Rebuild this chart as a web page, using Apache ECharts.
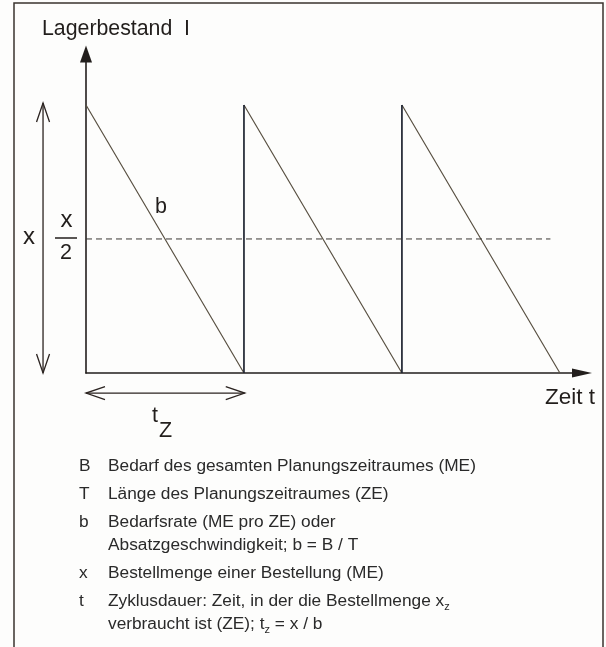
<!DOCTYPE html>
<html>
<head>
<meta charset="utf-8" />
<script src="https://cdn.jsdelivr.net/npm/echarts@6/dist/echarts.min.js"></script>
<style>
	html, body { margin: 0; padding: 0; background: #fff; }
	#main { width: 606px; height: 647px; }
</style>
</head>
<body>
<div id="main"></div>
<script type="text/javascript">
	// Zeit in Zyklen (t_z = 1), Lagerbestand in Einheiten von x (x = 1)
	var drawT = [0, 1, '-', 1, 2, '-', 2, 3];      // Verbrauch (Diagonalen)
	var drawI = [1, 0, '-', 1, 0, '-', 1, 0];
	var refillT = [1, 1, '-', 2, 2];              // Zugang der Bestellung
	var refillI = [0, 1, '-', 0, 1];
	var halfT = [0, 2.94];                        // Linie x/2
	var halfI = [0.5, 0.5];
	// Massepfeile [t1, I1, t2, I2]: Bestellmenge x und Zyklusdauer t_z
	var dimArrows = [[-0.272, 1.007, -0.272, 0], [0, -0.075, 1.005, -0.075]];

	var legendKeys = ['B', 'T', 'b', 'x', 't'];
	var legendTexts = [
		'Bedarf des gesamten Planungszeitraumes (ME)',
		'Länge des Planungszeitraumes (ZE)',
		'Bedarfsrate (ME pro ZE) oder\nAbsatzgeschwindigkeit; b = B / T',
		'Bestellmenge einer Bestellung (ME)',
		'Zyklusdauer: Zeit, in der die Bestellmenge x{s|z}\nverbraucht ist (ZE); t{s|z} = x / b'
	];

	function zip(a, b) {
		return a.map(function (v, i) { return v === '-' ? ['-', '-'] : [v, b[i]]; });
	}

	var FONT = '"Liberation Sans", Arial, Helvetica, sans-serif';
	var INK = '#221e1c';

	function txt(text, x, y, size, opt) {
		opt = opt || {};
		var style = {
			text: text, fill: opt.fill || INK, fontFamily: FONT, fontSize: size,
			align: opt.align || 'left', verticalAlign: opt.va || 'middle'
		};
		if (opt.lh) style.lineHeight = opt.lh;
		if (opt.rich) style.rich = opt.rich;
		return { type: 'text', x: x, y: y, silent: true, style: style };
	}

	// Rahmen und Beschriftung im Diagramm
	var graphics = [
		{ type: 'rect', silent: true, shape: { x: 14, y: 3, width: 589, height: 700 },
			style: { fill: 'transparent', stroke: '#3a332e', lineWidth: 1.5 } },
		txt('Lagerbestand  I', 42, 28.7, 21.3),
		txt('Zeit t', 545, 397.5, 22.5),
		txt('x', 23, 237, 24),
		txt('x', 66.5, 220, 24, { align: 'center' }),
		{ type: 'line', silent: true, shape: { x1: 55, y1: 238, x2: 77, y2: 238 },
			style: { stroke: INK, lineWidth: 1.5 } },
		txt('2', 66, 252.7, 21.5, { align: 'center' }),
		txt('b', 155, 206.7, 21.5),
		txt('t', 152, 415.7, 21.5),
		txt('Z', 159, 430.7, 21.5)
	];

	// Legende unter dem Diagramm
	var LFS = 17.3, LLH = 23, rowY = 472, extra = 0;
	var LINK = '#2a2a2a';
	for (var k = 0; k < legendKeys.length; k++) {
		var base = rowY + 28 * k + LLH * extra;
		var rowTop = base - 0.35 * LFS - LLH / 2;
		graphics.push(txt(legendKeys[k], 79, rowTop, LFS, { va: 'top', lh: LLH, fill: LINK }));
		var o = { va: 'top', lh: LLH, fill: LINK };
		if (legendTexts[k].indexOf('{s|') >= 0) {
			o.rich = { s: { fontSize: 11, lineHeight: 14, verticalAlign: 'bottom', fill: LINK, fontFamily: FONT } };
		}
		graphics.push(txt(legendTexts[k], 108, rowTop, LFS, o));
		extra += legendTexts[k].split('\n').length - 1;
	}

	function renderArrow(params, api) {
		var p1 = api.coord([api.value(0), api.value(1)]);
		var p2 = api.coord([api.value(2), api.value(3)]);
		var dx = p2[0] - p1[0], dy = p2[1] - p1[1];
		var len = Math.sqrt(dx * dx + dy * dy);
		var ux = dx / len, uy = dy / len, L = 19, W = 6.5;
		function head(p, s) {
			var bx = p[0] - s * ux * L, by = p[1] - s * uy * L;
			return [[bx - uy * W, by + ux * W], [p[0], p[1]], [bx + uy * W, by - ux * W]];
		}
		function st() { return { stroke: '#2b2320', fill: 'none', lineWidth: 1.3 }; }
		return {
			type: 'group',
			children: [
				{ type: 'line', shape: { x1: p1[0], y1: p1[1], x2: p2[0], y2: p2[1] }, style: st() },
				{ type: 'polyline', shape: { points: head(p1, -1) }, style: st() },
				{ type: 'polyline', shape: { points: head(p2, 1) }, style: st() }
			]
		};
	}

	var myChart = echarts.init(document.getElementById('main'));
	var option = {
		animation: false,
		backgroundColor: '#fdfdfc',
		grid: { left: 86, top: 54, width: 496, height: 319 },
		xAxis: {
			type: 'value', min: 0, max: 3.14,
			axisLine: { show: true, onZero: false, symbol: ['none', 'triangle'], symbolSize: [9, 20],
				lineStyle: { color: INK, width: 1.6 } },
			axisTick: { show: false }, axisLabel: { show: false }, splitLine: { show: false }
		},
		yAxis: {
			type: 'value', min: 0, max: 1.19,
			axisLine: { show: true, onZero: false, symbol: ['none', 'triangle'], symbolSize: [12, 17],
				lineStyle: { color: INK, width: 1.6 } },
			axisTick: { show: false }, axisLabel: { show: false }, splitLine: { show: false }
		},
		series: [
			{
				name: 'Verbrauch', type: 'line', data: zip(drawT, drawI),
				showSymbol: false, connectNulls: false,
				lineStyle: { color: '#5a5244', width: 1.2 }
			},
			{
				name: 'Zugang', type: 'line', data: zip(refillT, refillI),
				showSymbol: false, connectNulls: false,
				lineStyle: { color: '#1f2431', width: 1.7 }
			},
			{
				name: 'x/2', type: 'line', data: zip(halfT, halfI),
				showSymbol: false,
				lineStyle: { color: '#3a3632', width: 1, type: [6, 4] }
			},
			{
				name: 'Masse', type: 'custom', data: dimArrows,
				encode: { x: [0, 2], y: [1, 3] },
				renderItem: renderArrow, clip: false, silent: true
			}
		],
		graphic: graphics
	};
	myChart.setOption(option);
</script>
</body>
</html>
